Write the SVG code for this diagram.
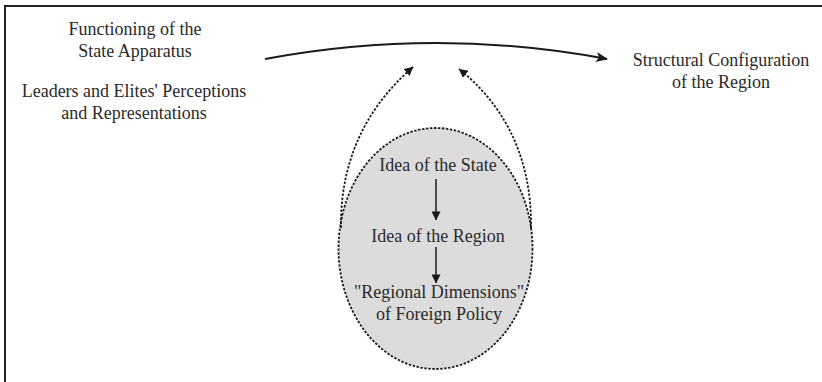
<svg xmlns="http://www.w3.org/2000/svg" width="822" height="382" viewBox="0 0 822 382">
<style>
text{font-family:"Liberation Serif","Times New Roman",serif;font-size:18px;fill:#2a2a2a;text-anchor:middle}
.solid{fill:none;stroke:#1a1a1a;stroke-width:2}
.dot{fill:none;stroke:#1a1a1a;stroke-width:1.8;stroke-dasharray:2.4 1.6}
.thin{fill:none;stroke:#1a1a1a;stroke-width:1.5}
</style>
<defs>
<marker id="ah" viewBox="0 0 12 10" refX="11" refY="5" markerWidth="12" markerHeight="10" markerUnits="userSpaceOnUse" orient="auto">
<path d="M0,0 L12,5 L0,10 L3,5 z" fill="#1a1a1a"/>
</marker>
<marker id="ahs" viewBox="0 0 10 10" refX="9.5" refY="5" markerWidth="9" markerHeight="9" markerUnits="userSpaceOnUse" orient="auto">
<path d="M0,0 L10,5 L0,10 z" fill="#1a1a1a"/>
</marker>
</defs>
<rect width="822" height="382" fill="#fff"/>
<path d="M5,382 V6 H822" fill="none" stroke="#222" stroke-width="2"/>
<g id="n-region">
<ellipse cx="435.5" cy="248.5" rx="97" ry="120.5" class="dot" style="fill:#dcdcdc"/>
</g>
<g id="n-functioning">
<text x="135" y="35">Functioning of the</text>
<text x="135" y="57">State Apparatus</text>
</g>
<g id="n-leaders">
<text x="134" y="97">Leaders and Elites' Perceptions</text>
<text x="134" y="119">and Representations</text>
</g>
<g id="n-structural">
<text x="721" y="66">Structural Configuration</text>
<text x="721" y="88">of the Region</text>
</g>
<g id="n-idea-state">
<text x="438" y="171">Idea of the State</text>
</g>
<g id="n-idea-region">
<text x="438" y="242">Idea of the Region</text>
</g>
<g id="n-dimensions">
<text x="439" y="298">"Regional Dimensions"</text>
<text x="439" y="320">of Foreign Policy</text>
</g>
<g id="connectors">
<path class="solid" d="M265,59 Q436,27 607,59" marker-end="url(#ah)"/>
<path class="dot" d="M341,228 C340,150 375,100 413,67" marker-end="url(#ahs)"/>
<path class="dot" d="M531,228 C532,150 498,100 459,69" marker-end="url(#ahs)"/>
<path class="thin" d="M436,179 V220" marker-end="url(#ahs)"/>
<path class="thin" d="M436,247 V283" marker-end="url(#ahs)"/>
</g>
</svg>
